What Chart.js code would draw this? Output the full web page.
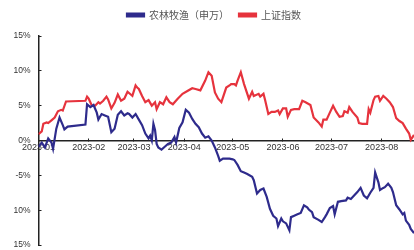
<!DOCTYPE html>
<html>
<head>
<meta charset="utf-8">
<script src="https://cdn.jsdelivr.net/npm/chart.js@4.4.1/dist/chart.umd.min.js"></script>
<style>
  html, body { margin: 0; padding: 0; background: #fff; }
  #wrap { width: 414px; height: 250px; }
</style>
</head>
<body>
<div id="wrap"><canvas id="chart"></canvas></div>
<script>
// x values are days since 2023-01-01
const tickDays = [0, 31, 59, 90, 120, 151, 181, 212];
const tickLabels = ["2023-01", "2023-02", "2023-03", "2023-04", "2023-05", "2023-06", "2023-07", "2023-08"];

// 农林牧渔（申万）, cumulative change in %
const agriDays = [0, 2, 4, 6, 8, 9, 11, 13, 15, 16, 18, 29, 30, 32, 34, 36, 37, 39, 41, 43, 45, 47, 49, 51, 53, 55,
  56, 58, 60, 62, 64, 66, 68, 69, 70, 71, 72, 73, 74, 76, 78, 80, 82, 84, 85, 87, 89, 91, 93, 95, 97, 99, 101, 103, 105, 107, 109,
  111, 112, 114, 116, 118, 120, 121, 123, 125, 127, 129, 132, 133, 135, 137, 139, 141, 143, 145, 147, 148, 150, 151, 153, 155,
  156, 158, 160, 162, 164, 166, 167, 169, 170, 173, 175, 177, 178, 180, 182, 183, 185, 187, 190, 191, 193, 195, 197, 199, 201,
  203, 205, 207, 208, 210, 211, 213, 214, 216, 218, 219, 221, 223, 225, 226, 227, 229, 230, 232];
const agriValues = [-0.9, -0.3, -1.0, 0.3, -0.3, -1.2, 1.7, 3.3, 2.2, 1.6, 2.0, 2.3, 5.2, 4.8, 5.1, 4.0, 3.0, 3.8, 3.6, 3.4, 1.2, 1.7, 3.7, 4.2, 3.6, 3.9,
  3.8, 3.3, 3.8, 3.0, 2.2, 1.0, 0.3, 0.7, 0.0, 2.4, 1.5, -0.5, -1.0, -1.3, -0.9, -0.5, -0.3, 0.5, -0.3, 1.8, 2.6, 4.4, 4.0, 3.1, 2.4, 1.9, 1.0, 0.4, 0.6, 0.0, -1.0,
  -2.2, -2.9, -2.6, -2.6, -2.6, -2.7, -2.8, -3.5, -4.4, -4.6, -4.8, -5.2, -5.7, -7.6, -7.1, -6.9, -8.1, -9.8, -10.8, -11.2, -12.3, -11.2, -11.6, -11.9, -12.9,
  -11.0, -10.8, -10.6, -10.4, -9.3, -9.6, -9.9, -10.3, -11.0, -11.4, -11.7, -11.0, -10.6, -9.7, -9.4, -10.6, -8.8, -8.7, -8.6, -8.2, -8.4, -7.9, -7.4, -6.8, -7.9,
  -8.3, -7.5, -6.8, -4.6, -6.0, -7.1, -6.8, -6.7, -6.2, -6.8, -7.4, -9.3, -9.9, -10.6, -10.4, -11.5, -12.1, -12.7, -13.3];

// 上证指数, cumulative change in %
const shDays = [0, 2, 3, 5, 6, 8, 10, 12, 14, 15, 17, 29, 30, 31, 33, 35, 37, 38, 40, 42, 43, 45, 47, 49, 51, 53, 55, 57, 58,
  60, 61, 62, 64, 66, 68, 70, 72, 73, 75, 77, 79, 81, 83, 86, 89, 92, 95, 97, 100, 103, 105, 107, 109, 111, 113, 116, 118, 119,
  121, 122, 123, 125, 127, 130, 131, 132, 133, 136, 137, 139, 140, 142, 144, 146, 148, 149, 151, 153, 154, 156, 158, 161, 163,
  165, 168, 170, 173, 175, 176, 178, 180, 182, 184, 186, 188, 189, 191, 192, 194, 197, 198, 200, 203, 204, 205, 207, 208, 210,
  211, 213, 215, 217, 219, 221, 223, 225, 227, 229, 230, 232];
const shValues = [0.9, 1.3, 2.4, 2.6, 2.5, 2.9, 3.3, 4.2, 4.4, 4.3, 5.6, 5.7, 6.3, 6.0, 5.0, 5.0, 5.5, 5.3, 5.7, 6.3, 5.9, 4.6, 5.4, 6.6, 5.7, 6.0, 7.0, 6.6, 6.4,
  7.9, 7.6, 7.4, 6.4, 5.5, 5.8, 5.0, 5.5, 4.5, 5.5, 5.2, 6.2, 5.5, 5.2, 6.0, 6.7, 7.1, 7.5, 7.4, 7.2, 8.6, 9.8, 9.3, 6.9, 6.0, 5.5, 7.6, 7.9, 8.1,
  8.1, 7.9, 8.6, 9.8, 8.1, 6.0, 6.5, 7.0, 6.4, 6.7, 6.3, 6.7, 5.8, 3.8, 4.1, 4.1, 4.3, 3.8, 4.6, 4.6, 3.4, 4.4, 4.5, 4.5, 5.7,
  5.5, 5.1, 3.3, 2.6, 2.0, 3.0, 3.0, 4.0, 5.0, 4.1, 3.4, 3.5, 4.2, 4.0, 4.8, 4.1, 3.3, 2.5, 2.4, 2.4, 4.5, 4.0, 5.8, 6.3, 6.4,
  5.7, 6.4, 6.0, 5.5, 4.8, 3.2, 2.8, 2.5, 1.7, 1.0, 0.1, 0.8];

const yTicks = [-15, -10, -5, 0, 5, 10, 15];

const toPoints = (xs, ys) => xs.map((x, i) => ({ x: x, y: ys[i] }));

// keep the legend band a fixed height so the plot starts where the original does
const legendHeight = {
  id: "legendHeight",
  beforeInit(chart) {
    const fit = chart.legend.fit;
    chart.legend.fit = function () {
      fit.call(this);
      this.height = 36;
    };
  },
};

new Chart(document.getElementById("chart"), {
  type: "line",
  data: {
    datasets: [
      {
        label: "农林牧渔（申万）",
        data: toPoints(agriDays, agriValues),
        borderColor: "#2e2b8c",
        backgroundColor: "#2e2b8c",
        borderWidth: 2.2,
        pointRadius: 0,
        tension: 0,
      },
      {
        label: "上证指数",
        data: toPoints(shDays, shValues),
        borderColor: "#e6333d",
        backgroundColor: "#e6333d",
        borderWidth: 2.2,
        pointRadius: 0,
        tension: 0,
      },
    ],
  },
  options: {
    responsive: true,
    maintainAspectRatio: false,
    animation: false,
    layout: { padding: { left: 14, right: 0, top: 0, bottom: 0 } },
    plugins: {
      legend: {
        position: "top",
        labels: {
          boxWidth: 17,
          boxHeight: 3,
          padding: 10,
          color: "#555",
          font: { family: "'Noto Sans CJK SC'", size: 10 },
        },
      },
      tooltip: { enabled: false },
    },
    scales: {
      x: {
        type: "linear",
        min: 0,
        max: 232,
        position: { y: 0 },
        afterBuildTicks: (scale) => {
          scale.ticks = tickDays.map((d) => ({ value: d }));
        },
        ticks: {
          autoSkip: false,
          maxRotation: 0,
          padding: 5,
          color: "#333",
          font: { family: "'Liberation Sans'", size: 9 },
          callback: (value) => tickLabels[tickDays.indexOf(value)],
        },
        grid: { drawOnChartArea: false, tickLength: -3, color: "#222" },
        border: { display: true, color: "#222", width: 1.5 },
      },
      y: {
        min: -15,
        max: 15,
        afterBuildTicks: (scale) => {
          scale.ticks = yTicks.map((v) => ({ value: v }));
        },
        afterFit: (scale) => {
          scale.width = 24.5;
          scale.paddingBottom = 5;
        },
        ticks: {
          padding: 11,
          color: "#333",
          font: { family: "'Liberation Sans'", size: 8.5 },
          callback: (value) => value + "%",
        },
        grid: { drawOnChartArea: false, tickLength: -3, color: "#222" },
        border: { display: true, color: "#222", width: 1.5 },
      },
    },
  },
  plugins: [legendHeight],
});
</script>
</body>
</html>
